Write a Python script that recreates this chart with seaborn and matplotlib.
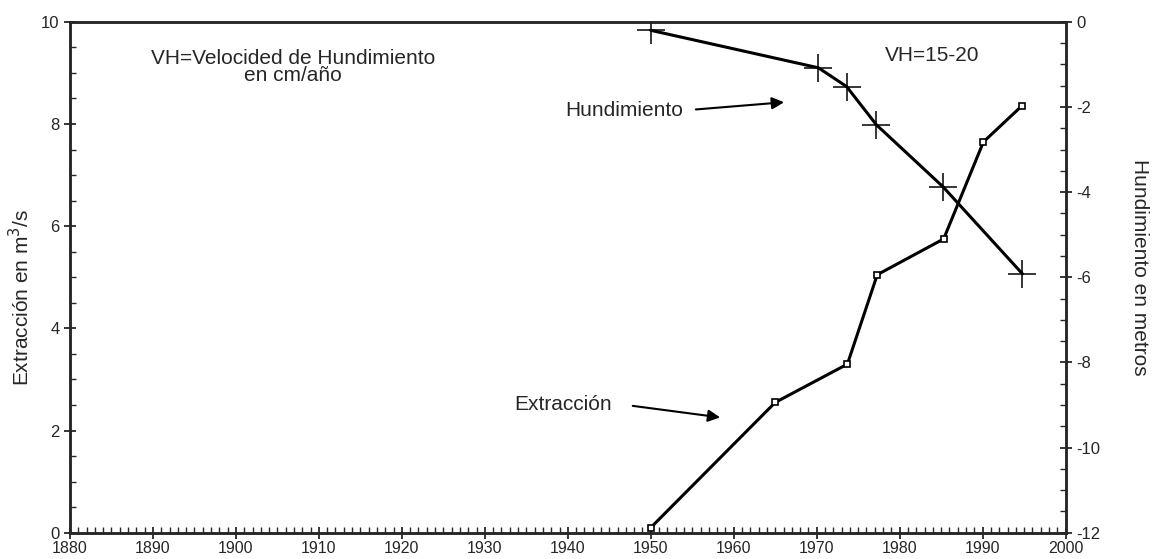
import matplotlib
matplotlib.use("Agg")
import matplotlib.pyplot as plt
import seaborn as sns
import pandas as pd
from matplotlib.ticker import MultipleLocator

# extraction (left axis, m3/s)
ext_years = [1950, 1965, 1973.7, 1977.3, 1985.3, 1990.1, 1994.7]
ext_values = [0.1, 2.55, 3.3, 5.05, 5.75, 7.65, 8.35]

# subsidence (right axis, metres)
hun_years = [1950, 1970.2, 1973.6, 1977.2, 1985.2, 1994.8]
hun_values = [-0.2, -1.08, -1.52, -2.42, -3.87, -5.92]

x_ticks = [1880, 1890, 1900, 1910, 1920, 1930, 1940, 1950, 1960, 1970, 1980, 1990, 2000]

sns.set_style("ticks")
plt.rcParams['font.family'] = ['Liberation Sans', 'DejaVu Sans']
plt.rcParams['axes.unicode_minus'] = False

df_ext = pd.DataFrame({"year": ext_years, "value": ext_values})
df_hun = pd.DataFrame({"year": hun_years, "value": hun_values})

fig, ax = plt.subplots(figsize=(11.57, 5.59), dpi=100)
fig.subplots_adjust(left=0.0605, right=0.921, bottom=0.047, top=0.961)

sns.lineplot(data=df_ext, x="year", y="value", ax=ax, color="black", lw=2.2,
             marker="s", markersize=5, markerfacecolor="white",
             markeredgecolor="black", markeredgewidth=1.2)
ax.set_xlim(1880, 2000)
ax.set_ylim(0, 10)
ax.set_xticks(x_ticks)
ax.xaxis.set_minor_locator(MultipleLocator(1))
ax.yaxis.set_minor_locator(MultipleLocator(0.5))
ax.set_xlabel("")
ax.set_ylabel("Extracción en m$^3$/s", fontsize=15)
ax.yaxis.set_label_coords(-0.037, 0.46)
ax.tick_params(axis="x", which="major", direction="inout", length=8, width=1.3,
               labelsize=11.5, pad=2)
ax.tick_params(axis="y", which="major", direction="inout", length=8, width=1.3, labelsize=12)
ax.tick_params(which="minor", direction="in", length=4, width=1)

ax2 = ax.twinx()
sns.lineplot(data=df_hun, x="year", y="value", ax=ax2, color="black", lw=2.2,
             marker="+", markersize=20, markeredgewidth=1.1,
             markeredgecolor="black", markerfacecolor="black")
ax2.set_ylim(-12, 0)
ax2.set_yticks([0, -2, -4, -6, -8, -10, -12])
ax2.yaxis.set_minor_locator(MultipleLocator(0.5))
ax2.set_ylabel("Hundimiento en metros", fontsize=15, rotation=-90)
ax2.yaxis.set_label_coords(1.084, 0.52)
ax2.tick_params(which="major", direction="inout", length=8, width=1.3, labelsize=12)
ax2.tick_params(which="minor", direction="in", length=4, width=1)

for a in (ax, ax2):
    for s in a.spines.values():
        s.set_linewidth(1.8)

ax.text(1906.9, 9.12, "VH=Velocided de Hundimiento\nen cm/año", ha="center", va="center",
        fontsize=15, linespacing=0.9)
ax.text(1983.9, 9.35, "VH=15-20", ha="center", va="center", fontsize=15)

ax.annotate("", xy=(1966.4, 8.43), xytext=(1955.1, 8.28),
            arrowprops=dict(arrowstyle="-|>", color="black", lw=1.5, mutation_scale=18))
ax.text(1953.9, 8.26, "Hundimiento", ha="right", va="center", fontsize=15)
ax.annotate("", xy=(1958.7, 2.25), xytext=(1947.5, 2.49),
            arrowprops=dict(arrowstyle="-|>", color="black", lw=1.5, mutation_scale=18))
ax.text(1945.3, 2.5, "Extracción", ha="right", va="center", fontsize=15)

plt.savefig("out.png", dpi=100)
